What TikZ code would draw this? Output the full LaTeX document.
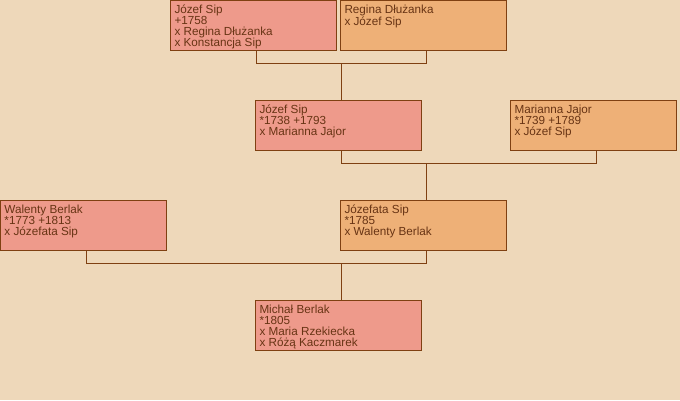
\documentclass[tikz,border=0pt]{standalone}
\usepackage{fontspec}
\setmainfont{Liberation Sans}
\usepackage{xcolor}
\usepackage{tikz}
\usetikzlibrary{positioning, calc}
\definecolor{Paper}  {HTML}{EED8BA}
\definecolor{Male}   {HTML}{EE9A8B}
\definecolor{Female} {HTML}{EEB077}
\definecolor{Frame}  {HTML}{7F4012}
\definecolor{Ink}    {HTML}{683414}
\newcommand{\card}[1]{\parbox[t][41pt][t]{158pt}{\raggedright #1}}
\tikzset{
  person/.style={draw=Frame, line width=1pt, rectangle, anchor=north west,
    minimum width=165pt, minimum height=50pt, inner xsep=4pt, inner ysep=4.5pt,
    text=Ink, font=\fontsize{11.7}{11}\selectfont},
  male/.style={person, fill=Male},
  female/.style={person, fill=Female},
  link/.style={draw=Frame, line width=1pt}
}

\begin{document}
\begin{tikzpicture}[x=1pt, y=-1pt]
      \useasboundingbox (0,0) rectangle (680,400);
      \fill[Paper] (0,0) rectangle (680,400);

      % ── generation 1 ───────────────────────────────────────────────────────
      \node[male]   (jsipA) at (170,0) {\card{Józef Sip\\{}+1758\\x Regina Dłużanka\\x Konstancja Sip}};
      \node[female] (rdluz) at (340,0) {\card{Regina Dłużanka\\x Józef Sip}};

      % ── generation 2 ───────────────────────────────────────────────────────
      \node[male]   (jsipB)  at (255,100) {\card{Józef Sip\\{}*1738 +1793\\x Marianna Jajor}};
      \node[female] (mjajor) at (510,100) {\card{Marianna Jajor\\{}*1739 +1789\\x Józef Sip}};

      % ── generation 3 ───────────────────────────────────────────────────────
      \node[male]   (wberlak) at (0,200)   {\card{Walenty Berlak\\{}*1773 +1813\\x Józefata Sip}};
      \node[female] (jsipC)   at (340,200) {\card{Józefata Sip\\{}*1785\\x Walenty Berlak}};

      % ── generation 4 ───────────────────────────────────────────────────────
      \node[male]   (mberlak) at (255,300) {\card{Michał Berlak\\{}*1805\\x Maria Rzekiecka\\x Różą Kaczmarek}};

      % ── couple bars ────────────────────────────────────────────────────────
      \coordinate (bar1) at ($(jsipA.south)+(2.5,12)$);
      \coordinate (bar2) at ($(jsipB.south)+(2.5,12)$);
      \coordinate (bar3) at ($(wberlak.south)+(2.5,12)$);
      \draw[link] ([xshift=2.5pt]jsipA.south) |- (bar1) -| ([xshift=2.5pt]rdluz.south);
      \draw[link] ([xshift=2.5pt]jsipB.south) |- (bar2) -| ([xshift=2.5pt]mjajor.south);
      \draw[link] ([xshift=2.5pt]wberlak.south) |- (bar3) -| ([xshift=2.5pt]jsipC.south);

      % ── child links ────────────────────────────────────────────────────────
      \draw[link] ([xshift=2.5pt]jsipB.north) |- (bar1);
      \draw[link] ([xshift=2.5pt]jsipC.north) |- (bar2);
      \draw[link] ([xshift=2.5pt]mberlak.north) |- (bar3);
\end{tikzpicture}
\end{document}
